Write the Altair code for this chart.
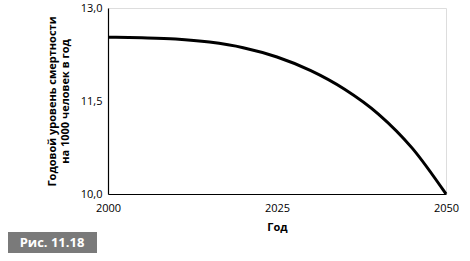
import altair as alt
import pandas as pd

years = [2000, 2005, 2010, 2015, 2020, 2025, 2030, 2035, 2040, 2045, 2050]
rates = [12.53, 12.52, 12.50, 12.45, 12.36, 12.21, 11.99, 11.69, 11.29, 10.74, 10.0]
x_ticks = [2000, 2025, 2050]
y_ticks = [10.0, 11.5, 13.0]
fig_label = "Рис. 11.18"

df = pd.DataFrame({"year": years, "rate": rates})
FONT = "Open Sans"

line = alt.Chart(df).mark_line(color="black", strokeWidth=3, interpolate="monotone").encode(
    x=alt.X("year:Q", scale=alt.Scale(domain=[2000, 2050], nice=False, zero=False),
            axis=alt.Axis(values=x_ticks, format="d", title="Год", ticks=False, grid=False,
                          domainColor="black", domainWidth=1.2, labelColor="black",
                          labelFont=FONT, labelFontSize=11, labelPadding=8,
                          titleFont=FONT, titleFontSize=11, titleFontWeight="bold",
                          titleColor="black", titlePadding=8, labelFlush=False)),
    y=alt.Y("rate:Q", scale=alt.Scale(domain=[10, 13], nice=False, zero=False),
            axis=alt.Axis(values=y_ticks, ticks=False, grid=False,
                          labelExpr="replace(format(datum.value, '.1f'), '.', ',')",
                          title=["Годовой уровень смертности", "на 1000 человек в год"],
                          domainColor="black", domainWidth=1.2, labelColor="black",
                          labelFont=FONT, labelFontSize=11, labelPadding=6,
                          titleFont=FONT, titleFontSize=11, titleFontWeight="bold",
                          titleColor="black", titlePadding=10, titleLineHeight=13,
                          labelFlush=False)),
)

box = alt.Chart(pd.DataFrame({"t": [fig_label]})).mark_rect(color="#7a7a7a").encode(
    x=alt.value(-100), x2=alt.value(-11), y=alt.value(224), y2=alt.value(245)
)
txt = alt.Chart(pd.DataFrame({"t": [fig_label]})).mark_text(
    color="white", font=FONT, fontSize=13, fontWeight="bold", align="center", baseline="middle"
).encode(x=alt.value(-56), y=alt.value(234.5), text="t:N")

chart = alt.layer(line, box, txt).properties(
    width=338, height=186,
    autosize=alt.AutoSizeParams(type="none"),
    padding={"left": 108, "top": 8, "right": 24, "bottom": 67},
).configure_view(stroke=None).configure(background="white")

chart.save("out.html", embed_options={"renderer": "svg", "actions": False})
